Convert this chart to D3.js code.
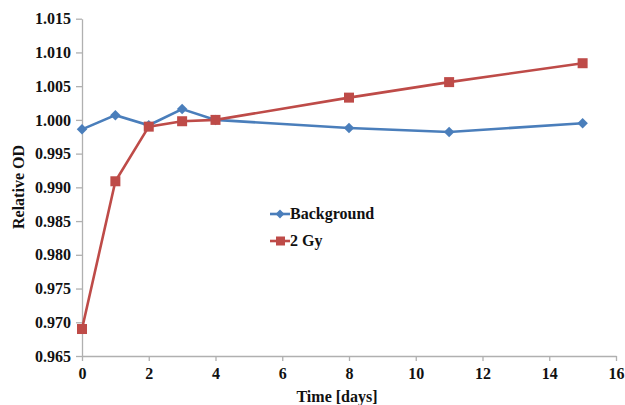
<!DOCTYPE html>
<html><head><meta charset="utf-8">
<script src="https://cdn.jsdelivr.net/npm/d3@7"></script>
<style>body{margin:0;background:#fff}svg{display:block}</style>
</head><body>
<svg id="c" width="625" height="405"></svg>
<script>
const days = [0, 1, 2, 3, 4, 8, 11, 15];
const background = [0.9986, 1.0007, 0.9992, 1.0016, 1.0000, 0.9988, 0.9982, 0.9995];
const gy2 = [0.9690, 0.9909, 0.9990, 0.9998, 1.0000, 1.0033, 1.0056, 1.0084];
const yTicks = [0.965, 0.970, 0.975, 0.980, 0.985, 0.990, 0.995, 1.000, 1.005, 1.010, 1.015];
const xTicks = [0, 2, 4, 6, 8, 10, 12, 14, 16];
const seriesNames = ["Background", "2 Gy"];

const svg = d3.select("#c");
const x = d3.scaleLinear().domain([0, 16]).range([82, 616]);
const y = d3.scaleLinear().domain([0.965, 1.015]).range([356, 18.7]);
const font = "'Liberation Serif','Times New Roman',serif";
const axisCol = "#b0b0b0";
const fs = 16;

const yAxis = svg.append("g").attr("transform", "translate(82,0)")
  .call(d3.axisLeft(y).tickValues(yTicks).tickFormat(d3.format(".3f")).tickSize(6).tickSizeOuter(0));
const xAxis = svg.append("g").attr("transform", "translate(0,356)")
  .call(d3.axisBottom(x).tickValues(xTicks).tickFormat(d3.format("d")).tickSize(5).tickSizeOuter(0));
[yAxis, xAxis].forEach(a => {
  a.select(".domain").attr("stroke", axisCol).attr("stroke-width", 1.3);
  a.selectAll(".tick line").attr("stroke", axisCol).attr("stroke-width", 1.3);
  a.selectAll(".tick text").attr("font-family", font).attr("font-weight", "bold")
    .attr("font-size", fs).attr("fill", "#111");
});
yAxis.selectAll(".tick text").attr("x", -11);
xAxis.selectAll(".tick text").attr("y", 12);

svg.append("text").attr("transform", "translate(24,187) rotate(-90)")
  .attr("text-anchor", "middle").attr("font-family", font).attr("font-weight", "bold")
  .attr("font-size", fs).attr("fill", "#111").text("Relative OD");
svg.append("text").attr("x", 337).attr("y", 402)
  .attr("text-anchor", "middle").attr("font-family", font).attr("font-weight", "bold")
  .attr("font-size", fs).attr("fill", "#111").text("Time [days]");

const colors = ["#4a7ebb", "#be4b48"];
const data = [background, gy2];
const line = d3.line().x((d, i) => x(days[i])).y(d => y(d));

data.forEach((vals, si) => {
  svg.append("path").datum(vals).attr("d", line).attr("fill", "none")
    .attr("stroke", colors[si]).attr("stroke-width", 2.6);
});
// markers
svg.append("g").selectAll("path").data(background).join("path")
  .attr("d", d3.symbol(d3.symbolDiamond2, 70)())
  .attr("transform", (d, i) => `translate(${x(days[i])},${y(d)})`)
  .attr("fill", colors[0]);
svg.append("g").selectAll("rect").data(gy2).join("rect")
  .attr("x", (d, i) => x(days[i]) - 5).attr("y", d => y(d) - 5)
  .attr("width", 10).attr("height", 10).attr("fill", colors[1]);

// legend
const lg = svg.append("g");
seriesNames.forEach((name, i) => {
  const yy = 214 + i * 27;
  lg.append("line").attr("x1", 270).attr("x2", 290).attr("y1", yy).attr("y2", yy)
    .attr("stroke", colors[i]).attr("stroke-width", 2.6);
  if (i === 0) {
    lg.append("path").attr("d", d3.symbol(d3.symbolDiamond2, 50)())
      .attr("transform", `translate(280,${yy})`).attr("fill", colors[i]);
  } else {
    lg.append("rect").attr("x", 276).attr("y", yy - 4.5).attr("width", 9).attr("height", 9)
      .attr("fill", colors[i]);
  }
  lg.append("text").attr("x", 290).attr("y", yy + 5).attr("font-family", font)
    .attr("font-weight", "bold").attr("font-size", fs).attr("fill", "#111").text(name);
});
</script>
</body></html>
